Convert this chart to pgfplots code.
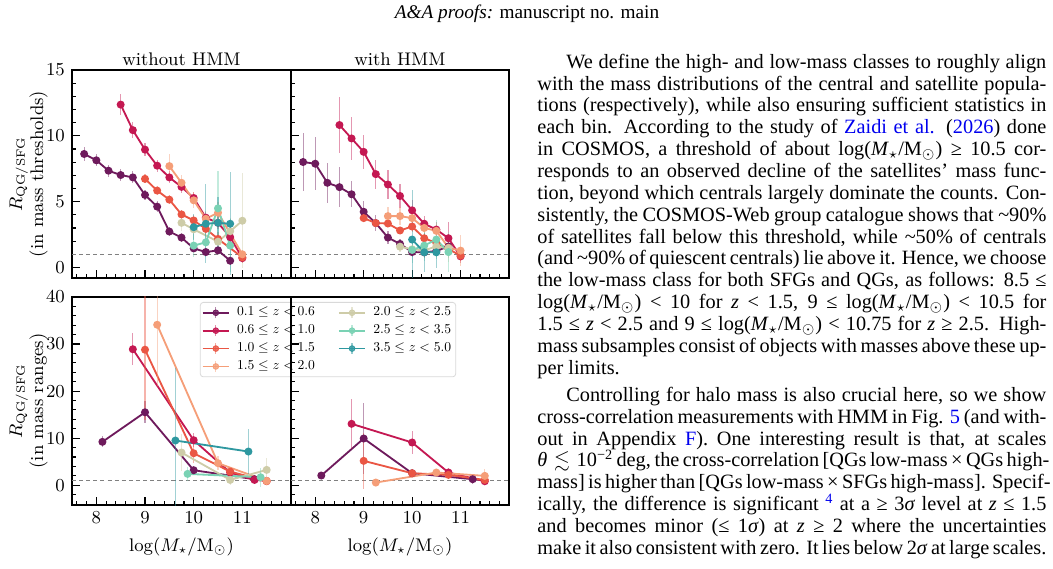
\documentclass[border=0pt]{standalone}
\usepackage{amssymb}
\usepackage{graphicx}
\usepackage{pgfplots}
\pgfplotsset{compat=1.18}
\usepackage{fontspec}
\newfontfamily\tnr{Liberation Serif}

\definecolor{c1}{RGB}{110,26,92}
\definecolor{c2}{RGB}{196,24,82}
\definecolor{c3}{RGB}{234,86,68}
\definecolor{c4}{RGB}{245,158,120}
\definecolor{c5}{RGB}{206,204,168}
\definecolor{c6}{RGB}{122,210,180}
\definecolor{c7}{RGB}{46,152,160}
\definecolor{linkblue}{RGB}{0,0,238}

\newcommand\lk[1]{{\color{linkblue}#1}}
\newcommand\lm{log(\textit{M}$_\star$/M$_\odot$)}
\newcommand\apx{\textasciitilde}
\newcommand\zr[2]{\scalebox{0.67}{$#1 \le z < #2$}}

\pgfplotsset{
  panel/.style={
    scale only axis, height=102.46pt,
    xmin=7.5, xmax=12,
    xtick={8,9,10,11},
    minor xtick={7.6,7.8,8.2,8.4,8.6,8.8,9.2,9.4,9.6,9.8,10.2,10.4,10.6,10.8,11.2,11.4,11.6,11.8},
    xtick pos=lower, ytick pos=left, tick align=inside,
    major tick length=4pt, minor tick length=2.2pt,
    tick style={black, line width=0.55pt},
    axis line style={line width=0.8pt},
    tick label style={font=\fontsize{9}{10}\selectfont},
    label style={font=\fontsize{9}{11.3}\selectfont},
    every axis title/.style={at={(axis description cs:0.5,1)}, anchor=base,
      yshift=2.2pt, font=\fontsize{9}{10}\selectfont},
    legend image code/.code={
      \draw[##1, line width=0.9pt] (0pt,0pt) -- (13pt,0pt);
      \draw[##1, line width=0.6pt, opacity=0.5] (6.5pt,-2.6pt) -- (6.5pt,2.6pt);
      \fill[##1] (6.5pt,0pt) circle (1.4pt);
    },
  },
  ser/.style={color=#1, mark=*, mark size=1.5pt, line width=0.9pt,
    mark options={solid}, forget plot,
    /pgfplots/error bars/y dir=both,
    /pgfplots/error bars/y explicit,
    /pgfplots/error bars/error mark=none,
    /pgfplots/error bars/error bar style={line width=0.6pt, opacity=0.45}},
  unity/.style={forget plot, gray, line width=0.5pt, dash pattern=on 2pt off 1.5pt},
}

\begin{document}
\begin{tikzpicture}
\path[use as bounding box] (0pt,0pt) rectangle (518.7pt,-279.8pt);

% ---------------- top row: mass thresholds ----------------
\begin{axis}[panel, width=107.88pt, at={(35.47pt,-34.48pt)}, anchor=north west,
  ymin=-0.8, ymax=15, ytick={0,5,10,15},
  minor ytick={1,2,3,4,6,7,8,9,11,12,13,14},
  xticklabels={}, title={without HMM}]
\addplot[unity] coordinates {(7.5,1) (12,1)};
\addplot[ser=c1] table[y error index=2] {
7.75 8.62 0.50
8.00 8.14 0.45
8.25 7.35 0.45
8.50 7.02 0.45
8.75 6.84 0.45
9.00 5.51 0.40
9.25 4.62 0.40
9.50 2.73 0.35
9.75 2.27 0.35
10.00 1.45 0.30
10.25 1.17 0.30
10.50 1.30 0.30
10.75 0.51 0.30
};
\addplot[ser=c2] table[y error index=2] {
8.50 12.37 0.80
8.75 10.43 0.60
9.00 8.95 0.50
9.25 7.73 0.45
9.50 6.84 0.45
9.75 6.12 0.45
10.00 5.28 0.45
10.25 3.78 0.45
10.50 3.39 0.50
10.75 2.30 0.60
11.00 0.71 0.40
};
\addplot[ser=c3] table[y error index=2] {
9.00 6.73 0.35
9.25 5.84 0.35
9.50 5.15 0.35
9.75 4.03 0.35
10.00 3.57 0.40
10.25 2.93 0.45
10.50 2.17 0.50
11.00 0.77 0.40
};
\addplot[ser=c4] table[y error index=2] {
9.50 7.70 0.90
9.75 6.43 0.60
10.00 5.10 0.60
10.25 3.70 0.60
10.50 4.16 0.80
11.00 1.00 0.30
};
\addplot[ser=c5] table[y error index=2] {
9.75 3.39 0.60
10.00 2.90 0.70
10.50 1.96 0.50
10.75 2.75 1.00
11.00 3.55 3.60
};
\addplot[ser=c6] table[y error index=2] {
10.00 1.66 0.90
10.25 1.91 1.10
10.50 4.49 2.80
10.75 1.66 2.00
};
\addplot[ser=c7] table[y error index=2] {
10.00 3.06 1.00
10.25 3.32 3.00
10.50 3.39 2.00
10.75 3.32 3.90
};
\end{axis}

\begin{axis}[panel, width=107.39pt, at={(143.35pt,-34.48pt)}, anchor=north west,
  ymin=-0.8, ymax=15, ytick={0,5,10,15},
  minor ytick={1,2,3,4,6,7,8,9,11,12,13,14},
  xticklabels={}, yticklabels={}, title={with HMM}]
\addplot[unity] coordinates {(7.5,1) (12,1)};
\addplot[ser=c1] table[y error index=2] {
7.75 8.01 2.20
8.00 7.88 2.00
8.25 6.43 1.50
8.50 6.10 1.50
8.75 5.56 1.00
9.00 4.23 0.80
9.25 3.37 0.60
9.50 2.27 0.50
9.75 1.79 0.40
10.00 1.17 0.40
10.25 1.15 0.40
10.50 1.25 0.40
10.75 1.60 0.50
};
\addplot[ser=c2] table[y error index=2] {
8.50 10.82 2.10
8.75 9.80 1.60
9.00 8.78 1.30
9.25 7.09 1.10
9.50 6.30 1.10
9.75 5.43 0.90
10.00 4.34 0.80
10.25 3.32 0.60
10.50 2.88 0.60
10.75 2.22 1.20
11.00 0.84 0.50
};
\addplot[ser=c3] table[y error index=2] {
9.00 3.75 0.30
9.25 3.37 0.30
9.50 3.34 0.30
9.75 2.81 0.30
10.00 3.11 0.40
10.25 2.22 0.50
10.50 1.86 0.50
10.75 1.40 0.50
11.00 0.90 0.40
};
\addplot[ser=c4] table[y error index=2] {
9.50 3.90 0.70
9.75 3.90 0.70
10.00 3.75 0.60
10.25 3.00 0.60
10.50 2.78 0.60
10.75 1.50 0.80
11.00 1.28 1.20
};
\addplot[ser=c5] table[y error index=2] {
9.75 1.58 0.40
10.00 1.38 0.50
10.25 1.30 0.60
10.50 1.60 0.80
10.75 1.45 1.00
};
\addplot[ser=c6] table[y error index=2] {
10.00 1.33 1.00
10.25 1.66 1.20
10.50 2.12 1.50
10.75 1.17 1.50
};
\addplot[ser=c7] table[y error index=2] {
10.00 2.12 3.80
10.25 1.15 1.50
10.50 1.15 1.20
};
\end{axis}

% ---------------- bottom row: mass ranges ----------------
\begin{axis}[panel, width=107.88pt, at={(35.47pt,-146.30pt)}, anchor=north west,
  ymin=-4.2, ymax=40, ytick={0,10,20,30,40},
  minor ytick={-2,2,4,6,8,12,14,16,18,22,24,26,28,32,34,36,38},
  xlabel={$\log(M_\star/\mathrm{M}_\odot)$},
  legend columns=2, legend cell align=left,
  legend style={at={(0.584,0.976)}, anchor=north west, inner sep=0.7pt,
    draw=black!15, rounded corners=1.5pt, fill=white, fill opacity=0.8, text opacity=1,
    font=\fontsize{10}{11}\selectfont,
    nodes={inner sep=1.5pt},
    /tikz/every odd column/.append style={column sep=2pt},
    /tikz/every even column/.append style={column sep=9.8pt}}]
\addplot[unity] coordinates {(7.5,1) (12,1)};
\addplot[ser=c1] table[y error index=2] {
8.125 9.22 1.20
9.00 15.50 2.30
10.00 3.19 1.00
11.25 1.28 1.00
};
\addplot[ser=c2] table[y error index=2] {
8.75 28.90 3.40
10.00 9.57 1.50
10.75 2.70 0.80
11.25 1.13 0.80
11.50 0.92 0.50
};
\addplot[ser=c3] table[y error index=2] {
9.00 28.80 15.00
10.00 6.80 2.00
10.75 2.90 1.00
11.50 0.85 0.50
};
\addplot[ser=c4] table[y error index=2] {
9.25 34.10 13.00
10.50 4.68 1.50
11.50 0.92 0.60
};
\addplot[ser=c5] table[y error index=2] {
9.75 6.95 4.00
10.75 1.13 1.00
11.50 3.26 2.60
};
\addplot[ser=c6] table[y error index=2] {
9.875 2.41 1.50
11.375 1.70 2.00
};
\addplot[ser=c7] table[y error index=2] {
9.625 9.50 15.50
11.125 7.16 4.80
};
\addlegendimage{c1}\addlegendentry{\zr{0.1}{0.6}}
\addlegendimage{c5}\addlegendentry{\zr{2.0}{2.5}}
\addlegendimage{c2}\addlegendentry{\zr{0.6}{1.0}}
\addlegendimage{c6}\addlegendentry{\zr{2.5}{3.5}}
\addlegendimage{c3}\addlegendentry{\zr{1.0}{1.5}}
\addlegendimage{c7}\addlegendentry{\zr{3.5}{5.0}}
\addlegendimage{c4}\addlegendentry{\zr{1.5}{2.0}}
\end{axis}

\begin{axis}[panel, width=107.39pt, at={(143.35pt,-146.30pt)}, anchor=north west,
  ymin=-4.2, ymax=40, ytick={0,10,20,30,40},
  minor ytick={-2,2,4,6,8,12,14,16,18,22,24,26,28,32,34,36,38},
  yticklabels={},
  xlabel={$\log(M_\star/\mathrm{M}_\odot)$}]
\addplot[unity] coordinates {(7.5,1) (12,1)};
\addplot[ser=c1] table[y error index=2] {
8.125 2.06 0.80
9.00 9.93 7.50
10.00 2.55 0.80
11.25 1.28 1.00
};
\addplot[ser=c2] table[y error index=2] {
8.75 13.05 5.30
10.00 9.08 2.50
10.75 2.70 1.00
11.50 0.85 0.60
};
\addplot[ser=c3] table[y error index=2] {
9.00 5.18 6.00
10.00 2.55 0.80
10.75 2.20 0.80
11.50 1.13 0.70
};
\addplot[ser=c4] table[y error index=2] {
9.25 0.57 0.50
10.50 2.70 0.80
11.50 1.99 1.50
};
\end{axis}

% ---------------- shared y-axis labels ----------------
\begin{scope}[every node/.style={rotate=90, anchor=base, inner sep=0pt,
    font=\fontsize{9}{11}\selectfont}]
\node at (10.84pt,-85.7pt) {$R_{\mathrm{QG/SFG}}$};
\node at (21.2pt,-85.7pt) {(in mass thresholds)};
\node at (10.84pt,-197.5pt) {$R_{\mathrm{QG/SFG}}$};
\node at (21.2pt,-197.5pt) {(in mass ranges)};
\end{scope}

% ---------------- running head and text column ----------------
\node[anchor=base, inner sep=0pt, font=\tnr\fontsize{9.5}{10}\selectfont]
  at (259.6pt,-9.11pt) {\textit{A\&A proofs:} manuscript no. main};

\begin{scope}[every node/.style={anchor=base west, inner sep=0pt, font=\tnr\fontsize{10}{11}\selectfont}]
\node at (278.8pt,-33.64pt) {\makebox[236.4pt][s]{We define the high- and low-mass classes to roughly align}};
\node at (264.53pt,-44.41pt) {\makebox[250.73pt][s]{with the mass distributions of the central and satellite popula-}};
\node at (264.53pt,-55.17pt) {\makebox[250.73pt][s]{tions (respectively), while also ensuring sufficient statistics in}};
\node at (264.53pt,-65.94pt) {\makebox[250.73pt][s]{each bin. According to the study of \lk{Zaidi et al.} (\lk{2026}) done}};
\node at (264.53pt,-76.70pt) {\makebox[250.73pt][s]{in COSMOS, a threshold of about \lm{} ≥ 10.5 cor-}};
\node at (264.53pt,-87.46pt) {\makebox[250.73pt][s]{responds to an observed decline of the satellites’ mass func-}};
\node at (264.53pt,-98.22pt) {\makebox[250.73pt][s]{tion, beyond which centrals largely dominate the counts. Con-}};
\node at (264.53pt,-108.99pt) {\makebox[250.73pt][s]{sistently, the COSMOS-Web group catalogue shows that \apx90\%}};
\node at (264.53pt,-119.75pt) {\makebox[250.73pt][s]{of satellites fall below this threshold, while \apx50\% of centrals}};
\node at (264.53pt,-130.51pt) {\makebox[250.73pt][s]{(and \apx90\% of quiescent centrals) lie above it. Hence, we choose}};
\node at (264.53pt,-141.28pt) {\makebox[250.73pt][s]{the low-mass class for both SFGs and QGs, as follows: 8.5 ≤}};
\node at (264.53pt,-152.04pt) {\makebox[250.73pt][s]{\lm{} < 10 for \textit{z} < 1.5, 9 ≤ \lm{} < 10.5 for}};
\node at (264.53pt,-162.80pt) {\makebox[250.73pt][s]{1.5 ≤ \textit{z} < 2.5 and 9 ≤ \lm{} < 10.75 for \textit{z} ≥ 2.5. High-}};
\node at (264.53pt,-173.57pt) {\makebox[250.73pt][s]{mass subsamples consist of objects with masses above these up-}};
\node at (264.53pt,-184.33pt) {per limits.};
\node at (278.8pt,-197.78pt) {\makebox[236.4pt][s]{Controlling for halo mass is also crucial here, so we show}};
\node at (264.53pt,-208.52pt) {\makebox[250.73pt][s]{cross-correlation measurements with HMM in Fig. \lk{5} (and with-}};
\node at (264.53pt,-219.26pt) {\makebox[250.73pt][s]{out in Appendix \lk{F}). One interesting result is that, at scales}};
\node at (264.53pt,-230.00pt) {\makebox[250.73pt][s]{\textit{θ}\, $\lesssim$\, 10\textsuperscript{−2} deg, the cross-correlation [QGs low-mass × QGs high-}};
\node at (264.53pt,-240.73pt) {\makebox[250.73pt][s]{mass] is higher than [QGs low-mass × SFGs high-mass]. Specif-}};
\node at (264.53pt,-251.47pt) {\makebox[250.73pt][s]{ically, the difference is significant \textsuperscript{\lk{4}} at a ≥ 3\textit{σ} level at \textit{z} ≤ 1.5}};
\node at (264.53pt,-262.21pt) {\makebox[250.73pt][s]{and becomes minor (≤ 1\textit{σ}) at \textit{z} ≥ 2 where the uncertainties}};
\node at (264.53pt,-272.95pt) {\makebox[250.73pt][s]{make it also consistent with zero. It lies below 2\textit{σ} at large scales.}};
\end{scope}
\end{tikzpicture}
\end{document}
